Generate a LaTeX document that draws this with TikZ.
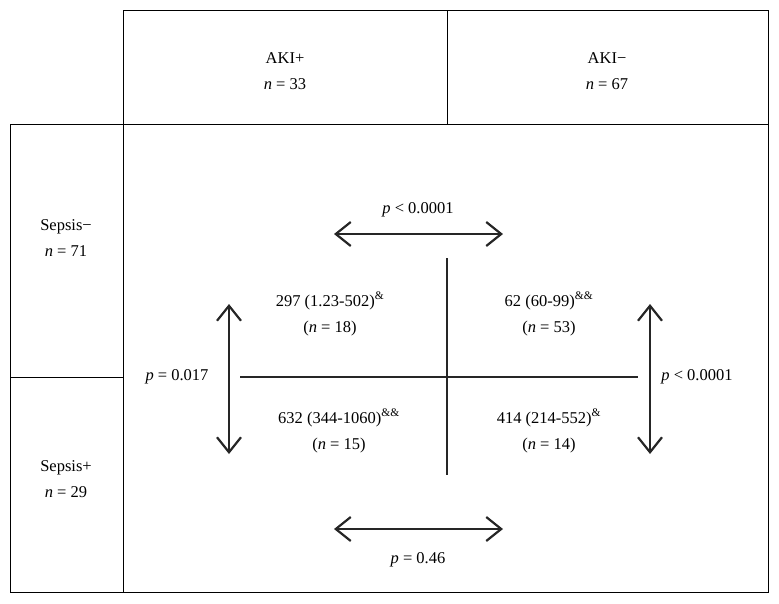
\documentclass[tikz,border=0pt]{standalone}
\usepackage{fontspec}
\setmainfont{Liberation Serif}
\usetikzlibrary{arrows.meta}
\begin{document}
\begin{tikzpicture}[x=1pt,y=-1pt,
  frame/.style={draw=black,line width=1pt},
  cross/.style={draw=black!85,line width=1.3pt},
  dbl/.style={draw=black!85,line width=2pt,{Straight Barb[length=15pt,width=24pt,line width=2.2pt]}-{Straight Barb[length=15pt,width=24pt,line width=2.2pt]}},
  lbl/.style={align=center,font=\fontsize{16.5}{26}\selectfont,inner sep=0pt}]
\useasboundingbox (0,0) rectangle (779,603);
% header box
\draw[frame] (123,10) rectangle (768,124);
\draw[frame] (447,10) -- (447,124);
% main box
\draw[frame] (10,124) rectangle (768,592);
\draw[frame] (123,124) -- (123,592);
\draw[frame] (10,377) -- (123,377);
% headers
\node[lbl] (akip) at (285,71) {AKI+\\\textit{n} = 33};
\node[lbl] (akim) at (607,71) {AKI−\\\textit{n} = 67};
\node[lbl] (sepm) at (66,238) {Sepsis−\\\textit{n} = 71};
\node[lbl] (sepp) at (66,479) {Sepsis+\\\textit{n} = 29};
% inner cross
\coordinate (hl) at (240,377);
\coordinate (hr) at (638,377);
\coordinate (vt) at (447,258);
\coordinate (vb) at (447,475);
\draw[cross] (hl) -- (hr);
\draw[cross] (vt) -- (vb);
% cells
\node[lbl] (c11) at (330,314) {297 (1.23-502)\textsuperscript{\&}\\(\textit{n} = 18)};
\node[lbl] (c12) at (549,314) {62 (60-99)\textsuperscript{\&\&}\\(\textit{n} = 53)};
\node[lbl] (c21) at (339,431) {632 (344-1060)\textsuperscript{\&\&}\\(\textit{n} = 15)};
\node[lbl] (c22) at (549,431) {414 (214-552)\textsuperscript{\&}\\(\textit{n} = 14)};
% arrows
\coordinate (ta) at (334,234); \coordinate (tb) at (503,234);
\coordinate (ba) at (334,529); \coordinate (bb) at (503,529);
\coordinate (la) at (229,304); \coordinate (lb) at (229,454);
\coordinate (ra) at (650,304); \coordinate (rb) at (650,454);
\draw[dbl] (ta) -- (tb);
\draw[dbl] (ba) -- (bb);
\draw[dbl] (la) -- (lb);
\draw[dbl] (ra) -- (rb);
% p labels
\node[lbl] (pt) at (418,210) {\textit{p} < 0.0001};
\node[lbl] (pb) at (418,560) {\textit{p} = 0.46};
\node[lbl] (pl) at (177,377) {\textit{p} = 0.017};
\node[lbl] (pr) at (697,377) {\textit{p} < 0.0001};
\end{tikzpicture}
\end{document}
